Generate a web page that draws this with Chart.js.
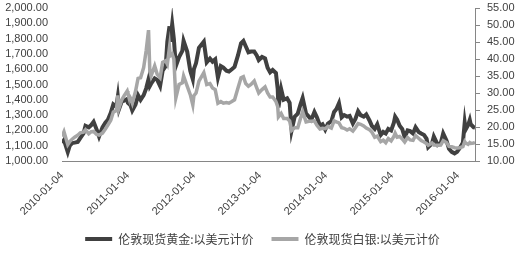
<!DOCTYPE html>
<html>
<head>
<meta charset="utf-8">
<script src="https://cdn.jsdelivr.net/npm/chart.js@4.4.1/dist/chart.umd.min.js"></script>
<style>
  html, body { margin: 0; padding: 0; background: #fff; }
  #wrap { width: 525px; height: 257px; }
</style>
</head>
<body>
<div id="wrap"><canvas id="c" width="525" height="257"></canvas></div>
<script>
// ── Data (roughly twice a month) ───────────────────────────────────
const dates = [
  "2010-01-04","2010-01-15","2010-02-05","2010-02-16","2010-03-01","2010-03-15","2010-04-01","2010-04-15",
  "2010-05-03","2010-05-14","2010-06-01","2010-06-15","2010-06-28","2010-07-15","2010-07-28","2010-08-16",
  "2010-09-01","2010-09-15","2010-10-01","2010-10-15","2010-11-01","2010-11-09","2010-11-16","2010-12-01",
  "2010-12-15","2010-12-31",
  "2011-01-04","2011-01-18","2011-01-28","2011-02-15","2011-03-01","2011-03-15","2011-04-01","2011-04-15",
  "2011-04-28","2011-05-05","2011-05-12","2011-06-01","2011-06-15","2011-07-01","2011-07-15","2011-08-01",
  "2011-08-10","2011-08-22","2011-08-26","2011-09-06","2011-09-15","2011-09-26","2011-10-14","2011-11-01",
  "2011-11-08","2011-11-28","2011-12-15","2011-12-29",
  "2012-01-04","2012-01-16","2012-02-01","2012-02-28","2012-03-15","2012-04-02","2012-04-16","2012-05-01",
  "2012-05-16","2012-06-01","2012-06-15","2012-07-02","2012-07-16","2012-08-01","2012-08-16","2012-09-04",
  "2012-09-21","2012-10-04","2012-10-17","2012-11-01","2012-11-15","2012-12-03","2012-12-17","2012-12-28",
  "2013-01-15","2013-02-01","2013-02-15","2013-03-01","2013-03-15","2013-04-02","2013-04-12","2013-04-16",
  "2013-05-01","2013-05-15","2013-06-03","2013-06-17","2013-06-28","2013-07-15","2013-08-01","2013-08-16",
  "2013-08-28","2013-09-16","2013-10-01","2013-10-15","2013-11-01","2013-11-15","2013-12-02","2013-12-16",
  "2013-12-31",
  "2014-01-15","2014-02-03","2014-02-18","2014-03-03","2014-03-17","2014-04-01","2014-04-15","2014-05-01",
  "2014-05-15","2014-06-02","2014-06-16","2014-07-01","2014-07-15","2014-08-01","2014-08-15","2014-09-02",
  "2014-09-15","2014-10-01","2014-10-15","2014-11-03","2014-11-17","2014-12-01","2014-12-15","2014-12-31",
  "2015-01-15","2015-01-22","2015-02-02","2015-02-16","2015-03-02","2015-03-16","2015-04-01","2015-04-15",
  "2015-05-01","2015-05-15","2015-06-01","2015-06-15","2015-07-01","2015-07-15","2015-07-24","2015-08-14",
  "2015-08-24","2015-09-15","2015-10-01","2015-10-15","2015-11-02","2015-11-16","2015-12-01","2015-12-17",
  "2015-12-31",
  "2016-01-15","2016-02-01","2016-02-11","2016-02-16","2016-03-01","2016-03-10","2016-03-15","2016-04-01",
  "2016-04-08"
];

const gold = [
  1118,1137,1058,1100,1117,1120,1125,1150, 1180,1230,1220,1235,1256,1205,1160,1220,
  1250,1270,1315,1370,1355,1421,1340,1390, 1395,1405,
  1380,1365,1330,1370,1430,1400,1430,1475, 1535,1490,1505,1540,1530,1490,1590,1620,
  1780,1880,1780,1895,1800,1620,1680,1720, 1785,1715,1590,1535,
  1600,1640,1740,1780,1645,1670,1650,1665, 1545,1620,1610,1590,1585,1600,1615,1690,
  1770,1785,1750,1710,1715,1715,1690,1660,
  1680,1670,1610,1580,1595,1575,1470,1350, 1470,1400,1410,1380,1200,1290,1310,1370,
  1412,1310,1290,1270,1320,1285,1230,1240, 1205,
  1245,1260,1320,1340,1378,1285,1300,1290, 1295,1245,1275,1325,1300,1290,1305,1265,
  1230,1210,1240,1170,1190,1180,1210,1200,
  1250,1290,1270,1230,1210,1155,1200,1195, 1180,1220,1190,1180,1170,1145,1090,1115,
  1160,1105,1115,1180,1135,1080,1060,1050, 1060,
  1085,1120,1250,1205,1235,1268,1240,1220, 1218
];

const silver = [
  17.2,18.6,14.8,15.7,16.4,17.0,17.6,18.3, 18.5,19.2,18.0,18.6,18.7,17.8,17.6,18.2,
  19.4,20.6,22.0,24.4,24.8,29.3,25.6,28.0, 29.3,30.6,
  29.8,28.5,27.0,30.5,34.3,34.5,37.5,42.5, 48.5,36.5,35.0,38.0,35.5,34.5,39.0,39.5,
  38.5,43.5,41.0,41.5,40.0,28.5,32.5,33.0, 35.0,32.0,29.5,26.5,
  29.2,30.0,33.5,36.0,32.5,32.8,31.5,31.0, 27.0,27.5,27.0,27.2,27.0,27.5,28.0,31.5,
  34.5,34.8,32.8,32.0,32.5,33.5,31.5,30.0,
  31.0,31.8,30.0,28.8,28.8,27.5,26.0,23.0, 24.0,22.5,22.5,21.8,19.0,19.8,19.8,22.5,
  24.5,21.5,21.7,21.7,21.8,20.5,19.4,19.6, 19.5,
  20.2,19.7,21.8,21.5,21.2,19.8,19.6,19.1, 19.5,18.8,19.8,21.0,20.8,20.3,19.7,19.2,
  18.5,17.0,17.3,15.7,16.1,15.4,16.6,15.9,
  17.2,18.2,17.0,17.2,16.5,15.6,16.9,16.2, 16.1,17.5,16.7,16.0,15.6,15.1,14.6,15.3,
  14.7,14.6,14.7,16.0,15.4,14.3,14.2,13.9, 13.8,
  13.9,14.2,15.7,15.3,14.9,15.4,15.2,15.3, 15.5
];

const tickDates = ["2010-01-04","2011-01-04","2012-01-04","2013-01-04","2014-01-04","2015-01-04","2016-01-04"];
const seriesNames = ["伦敦现货黄金:以美元计价", "伦敦现货白银:以美元计价"];

function ms(d) { const p = d.split('-'); return Date.UTC(+p[0], +p[1]-1, +p[2]); }
function fmtLeft(v)  { return v.toLocaleString('en-US', { minimumFractionDigits: 2, maximumFractionDigits: 2 }); }

const tickFont = { family: 'Arial, "Liberation Sans"', size: 11 };
const textColor = '#404040';

new Chart(document.getElementById('c').getContext('2d'), {
  type: 'line',
  data: {
    datasets: [
      { label: seriesNames[0], data: dates.map((d, i) => ({ x: ms(d), y: gold[i] })),
        yAxisID: 'y', borderColor: '#404040', backgroundColor: '#404040',
        borderWidth: 4, pointRadius: 0, tension: 0, order: 1 },
      { label: seriesNames[1], data: dates.map((d, i) => ({ x: ms(d), y: silver[i] })),
        yAxisID: 'y1', borderColor: '#a6a6a6', backgroundColor: '#a6a6a6',
        borderWidth: 3.5, pointRadius: 0, tension: 0, order: 0 }
    ]
  },
  options: {
    responsive: false, animation: false, devicePixelRatio: 1,
    layout: { padding: { top: 8, bottom: 2, left: 0, right: 0 } },
    plugins: {
      tooltip: { enabled: false },
      legend: {
        position: 'bottom',
        labels: {
          sort: (a, b) => a.datasetIndex - b.datasetIndex,
          generateLabels: ch => Chart.defaults.plugins.legend.labels.generateLabels(ch)
            .map(l => Object.assign(l, { lineWidth: 0 })),
          boxWidth: 27, boxHeight: 4, padding: 18, color: textColor,
          font: { family: '"Noto Sans CJK SC"', size: 12 }
        }
      }
    },
    scales: {
      x: {
        type: 'linear',
        min: ms(dates[0]), max: ms(dates[dates.length - 1]),
        afterBuildTicks: s => { s.ticks = tickDates.map(d => ({ value: ms(d) })); },
        afterFit: s => { s.height = 54; },
        grid: { display: false, drawTicks: false },
        border: { display: true, color: '#868686', width: 1 },
        ticks: {
          autoSkip: false, maxRotation: 45, minRotation: 45, padding: 8,
          color: textColor, font: tickFont,
          callback: (v) => tickDates.find(d => ms(d) === v) || ''
        }
      },
      y: {
        position: 'left', min: 1000, max: 2000,
        afterFit: s => { s.width = 62; },
        // hidden tick marks only push the labels away from the plot
        grid: { display: false, drawTicks: true, tickLength: 13 }, border: { display: false },
        ticks: { autoSkip: false, stepSize: 100, padding: 1, color: textColor, font: tickFont, callback: fmtLeft }
      },
      y1: {
        position: 'right', min: 10, max: 55,
        afterFit: s => { s.width = 50; },
        grid: { display: true, drawOnChartArea: false, tickLength: 11, tickBorderDash: [4, 40], color: '#868686' },
        border: { display: true, color: '#868686', width: 1 },
        ticks: { autoSkip: false, stepSize: 5, padding: 1, color: textColor, font: tickFont, callback: v => v.toFixed(2) }
      }
    }
  }
});
</script>
</body>
</html>
